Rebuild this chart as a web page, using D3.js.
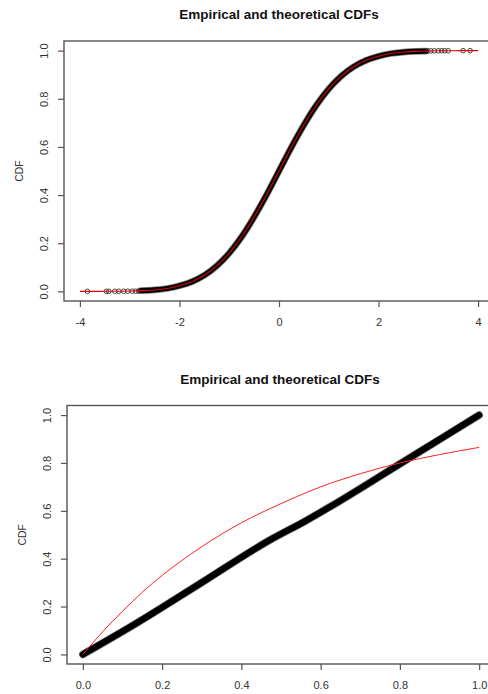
<!DOCTYPE html>
<html>
<head>
<meta charset="utf-8">
<script src="https://cdn.jsdelivr.net/npm/d3@7"></script>
<style>
  html, body { margin: 0; padding: 0; background: #fff; }
  svg { display: block; font-family: "Liberation Sans", Arial, sans-serif; }
</style>
</head>
<body>
<svg id="chart" width="488" height="694"></svg>
<script>
// ---- Panel 1: normal sample vs. standard normal CDF ----
// Theoretical CDF (x, F)
const normX = [-4, -3.75, -3.5, -3.25, -3, -2.75, -2.5, -2.25, -2, -1.75, -1.5, -1.25, -1, -0.75, -0.5, -0.25,
               0, 0.25, 0.5, 0.75, 1, 1.25, 1.5, 1.75, 2, 2.25, 2.5, 2.75, 3, 3.25, 3.5, 3.75, 4];
const normF = [0.000, 0.0001, 0.0002, 0.0006, 0.0013, 0.003, 0.006, 0.012, 0.023, 0.040, 0.067, 0.106, 0.159, 0.227, 0.309, 0.401,
               0.500, 0.599, 0.691, 0.773, 0.841, 0.894, 0.933, 0.960, 0.977, 0.988, 0.994, 0.997, 0.9987, 0.9994, 0.9998, 0.9999, 1.000];
// Empirical CDF, dense central part of the sample
const ecdfX = [-2.78, -2.5, -2.25, -2, -1.75, -1.5, -1.25, -1, -0.75, -0.5, -0.25,
               0, 0.25, 0.5, 0.75, 1, 1.25, 1.5, 1.75, 2, 2.25, 2.5, 2.75, 2.95];
const ecdfF = [0.003, 0.006, 0.012, 0.023, 0.040, 0.067, 0.106, 0.159, 0.227, 0.309, 0.401,
               0.500, 0.599, 0.691, 0.773, 0.841, 0.894, 0.933, 0.960, 0.977, 0.988, 0.994, 0.997, 0.998];
// Isolated observations in the tails
const tailX = [-3.85, -3.47, -3.42, -3.30, -3.22, -3.12, -3.04, -2.95, -2.88, -2.82,
               2.99, 3.05, 3.12, 3.20, 3.27, 3.33, 3.40, 3.70, 3.84];
const tailF = [0.0001, 0.0002, 0.0003, 0.0004, 0.0005, 0.0006, 0.0007, 0.0008, 0.0009, 0.0010,
               0.9990, 0.9991, 0.9992, 0.9993, 0.9994, 0.9995, 0.9996, 0.9998, 0.9999];
const xTicks1 = [-4, -2, 0, 2, 4];

// ---- Panel 2: sample on [0,1] vs. fitted CDF ----
const unifX = [0, 0.137, 0.296, 0.472, 0.56, 0.623, 0.804, 0.90, 1.0];
const unifF = [0, 0.132, 0.296, 0.478, 0.556, 0.616, 0.800, 0.898, 1.0];
const fitX = [0, 0.05, 0.1, 0.15, 0.2, 0.3, 0.4, 0.5, 0.6, 0.7, 0.8, 0.9, 1.0];
const fitF = [0, 0.095, 0.18, 0.26, 0.33, 0.45, 0.55, 0.63, 0.70, 0.755, 0.80, 0.835, 0.865];
const xTicks2 = [0, 0.2, 0.4, 0.6, 0.8, 1.0];

const yTicks = [0, 0.2, 0.4, 0.6, 0.8, 1.0];
const titleText = "Empirical and theoretical CDFs";
const yLabel = "CDF";

const svg = d3.select("#chart");
svg.append("rect").attr("width", 488).attr("height", 694).attr("fill", "#fff");

function panel(cfg) {
  const x = d3.scaleLinear().domain(cfg.xDom).range([cfg.left, cfg.right]);
  const y = d3.scaleLinear().domain([-0.04, 1.04]).range([cfg.bottom, cfg.top]);
  const g = svg.append("g");

  // title
  g.append("text")
    .attr("x", cfg.titleX).attr("y", cfg.top - 22)
    .attr("text-anchor", "middle")
    .attr("font-size", 13.5).attr("font-weight", "bold").attr("fill", "#111")
    .text(titleText);

  // y axis label
  g.append("text")
    .attr("transform", `translate(${cfg.left - 41},${(cfg.top + cfg.bottom) / 2}) rotate(-90)`)
    .attr("text-anchor", "middle")
    .attr("font-size", 10.5).attr("fill", "#333")
    .text(yLabel);

  // x axis
  const xa = g.append("g").attr("transform", `translate(0,${cfg.bottom})`)
    .call(d3.axisBottom(x).tickValues(cfg.xTicks).tickSizeOuter(0).tickSize(6).tickPadding(11)
      .tickFormat(cfg.xFmt));
  xa.select(".domain").remove();
  xa.selectAll("line").attr("stroke", "#555").attr("stroke-width", 1.2);
  xa.selectAll("text").attr("font-size", 11).attr("fill", "#333").attr("font-family", null);

  // y axis (rotated labels, as in base R)
  const ya = g.append("g").attr("transform", `translate(${cfg.left},0)`)
    .call(d3.axisLeft(y).tickValues(yTicks).tickSizeOuter(0).tickSize(6).tickFormat(d3.format(".1f")));
  ya.select(".domain").remove();
  ya.selectAll("line").attr("stroke", "#555").attr("stroke-width", 1.2);
  ya.selectAll("text")
    .attr("x", null).attr("dy", null)
    .attr("text-anchor", "middle")
    .attr("transform", `translate(${cfg.yLabX - cfg.left},0) rotate(-90)`)
    .attr("font-size", 11).attr("fill", "#333").attr("font-family", null);

  // plot box
  g.append("rect")
    .attr("x", cfg.left).attr("y", cfg.top)
    .attr("width", cfg.right - cfg.left).attr("height", cfg.bottom - cfg.top)
    .attr("fill", "none").attr("stroke", "#555").attr("stroke-width", 1.4);

  const clipId = "clip" + cfg.id;
  svg.append("clipPath").attr("id", clipId).append("rect")
    .attr("x", cfg.left).attr("y", cfg.top)
    .attr("width", cfg.right - cfg.left).attr("height", cfg.bottom - cfg.top);
  const plot = g.append("g").attr("clip-path", `url(#${clipId})`);
  return { x, y, plot };
}

const line = (x, y, curve) => d3.line().x(d => x(d[0])).y(d => y(d[1])).curve(curve || d3.curveMonotoneX);

// Panel 1
{
  const { x, y, plot } = panel({
    id: 1, xDom: [-4.32, 4.32], left: 64, right: 494, top: 41, bottom: 301,
    xTicks: xTicks1, xFmt: d => String(d), titleX: 279, yLabX: 47.5
  });
  const ecdf = ecdfX.map((v, i) => [v, ecdfF[i]]);
  const theo = normX.map((v, i) => [v, normF[i]]);
  // dense band of overlapping sample points
  plot.append("path").attr("d", line(x, y)(ecdf))
    .attr("fill", "none").attr("stroke", "#888").attr("stroke-width", 6.8).attr("stroke-linecap", "round");
  plot.append("path").attr("d", line(x, y)(ecdf))
    .attr("fill", "none").attr("stroke", "#000").attr("stroke-width", 5.2).attr("stroke-linecap", "round");
  // sparse tail points
  plot.selectAll("circle.tail").data(tailX.map((v, i) => [v, tailF[i]])).join("circle")
    .attr("class", "tail")
    .attr("cx", d => x(d[0])).attr("cy", d => y(d[1])).attr("r", 2.3)
    .attr("fill", "none").attr("stroke", "#333").attr("stroke-width", 0.9);
  plot.append("path").attr("d", line(x, y)(theo))
    .attr("fill", "none").attr("stroke", "#e00000").attr("stroke-width", 1.1);
}

// Panel 2
{
  const { x, y, plot } = panel({
    id: 2, xDom: [-0.04, 1.04], left: 67, right: 495, top: 405.5, bottom: 664,
    xTicks: xTicks2, xFmt: d3.format(".1f"), titleX: 280, yLabX: 50.5
  });
  const ecdf = unifX.map((v, i) => [v, unifF[i]]);
  const theo = fitX.map((v, i) => [v, fitF[i]]);
  plot.append("path").attr("d", line(x, y)(ecdf))
    .attr("fill", "none").attr("stroke", "#888").attr("stroke-width", 7.8).attr("stroke-linecap", "round");
  plot.append("path").attr("d", line(x, y)(ecdf))
    .attr("fill", "none").attr("stroke", "#000").attr("stroke-width", 6.4).attr("stroke-linecap", "round");
  plot.append("path").attr("d", line(x, y)(theo))
    .attr("fill", "none").attr("stroke", "#ff2020").attr("stroke-width", 1);
}
</script>
</body>
</html>
